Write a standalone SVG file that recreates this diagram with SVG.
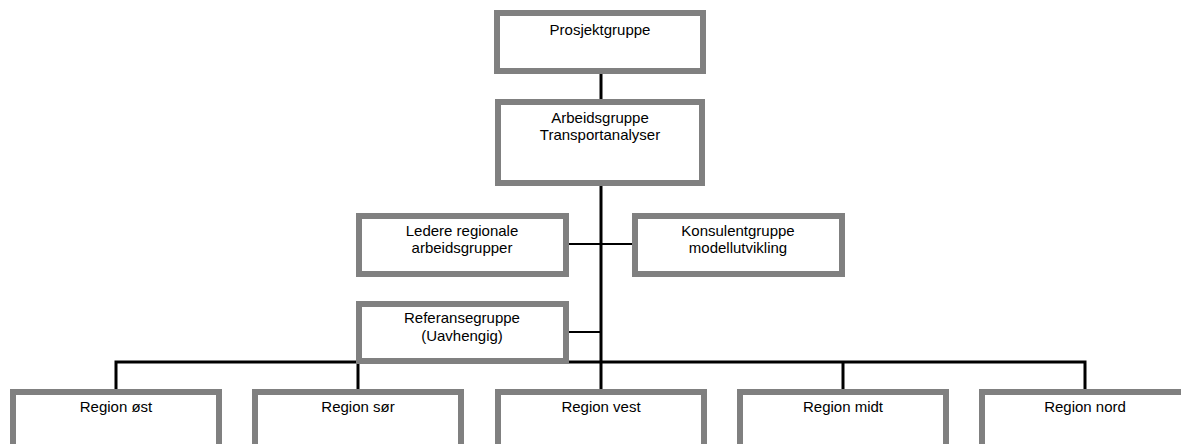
<svg xmlns="http://www.w3.org/2000/svg" width="1181" height="444" viewBox="0 0 1181 444">
<style>
.box{fill:#fff;stroke:#808080;stroke-width:6}
.t{font-family:"Liberation Sans",Arial,sans-serif;font-size:15px;fill:#000;text-anchor:middle}
.c{stroke:#000;fill:none}
.thick{stroke-width:3}
.thin{stroke-width:2}
</style>
<rect width="1181" height="444" fill="#fff"/>
<g id="connectors">
<line class="c thick" x1="601" y1="72" x2="601" y2="101"/>
<line class="c thick" x1="601" y1="184" x2="601" y2="363"/>
<line class="c thin" x1="567" y1="244" x2="634" y2="244"/>
<line class="c thin" x1="567" y1="332" x2="601" y2="332"/>
<polyline class="c thick" points="116,391 116,362 1085,362 1085,391"/>
<line class="c thick" x1="358" y1="362" x2="358" y2="391"/>
<line class="c thick" x1="601" y1="362" x2="601" y2="391"/>
<line class="c thick" x1="843" y1="362" x2="843" y2="391"/>
</g>
<g id="prosjektgruppe">
<rect class="box" x="497" y="13" width="206" height="58"/>
<text class="t" x="600" y="35">Prosjektgruppe</text>
</g>
<g id="arbeidsgruppe">
<rect class="box" x="498" y="102" width="204" height="81"/>
<text class="t" x="600" y="123">Arbeidsgruppe</text>
<text class="t" x="600" y="140">Transportanalyser</text>
</g>
<g id="ledere">
<rect class="box" x="359" y="216" width="207" height="58"/>
<text class="t" x="462" y="236">Ledere regionale</text>
<text class="t" x="462" y="253">arbeidsgrupper</text>
</g>
<g id="konsulent">
<rect class="box" x="635" y="216" width="207" height="58"/>
<text class="t" x="738" y="236">Konsulentgruppe</text>
<text class="t" x="738" y="253">modellutvikling</text>
</g>
<g id="referanse">
<rect class="box" x="359" y="304" width="207" height="57"/>
<text class="t" x="462" y="323">Referansegruppe</text>
<text class="t" x="462" y="341">(Uavhengig)</text>
</g>
<g id="region-ost">
<rect class="box" x="13" y="392" width="206" height="80"/>
<text class="t" x="116" y="412">Region øst</text>
</g>
<g id="region-sor">
<rect class="box" x="255" y="392" width="206" height="80"/>
<text class="t" x="358" y="412">Region sør</text>
</g>
<g id="region-vest">
<rect class="box" x="498" y="392" width="206" height="80"/>
<text class="t" x="601" y="412">Region vest</text>
</g>
<g id="region-midt">
<rect class="box" x="740" y="392" width="206" height="80"/>
<text class="t" x="843" y="412">Region midt</text>
</g>
<g id="region-nord">
<rect class="box" x="982" y="392" width="206" height="80"/>
<text class="t" x="1085" y="412">Region nord</text>
</g>
</svg>
